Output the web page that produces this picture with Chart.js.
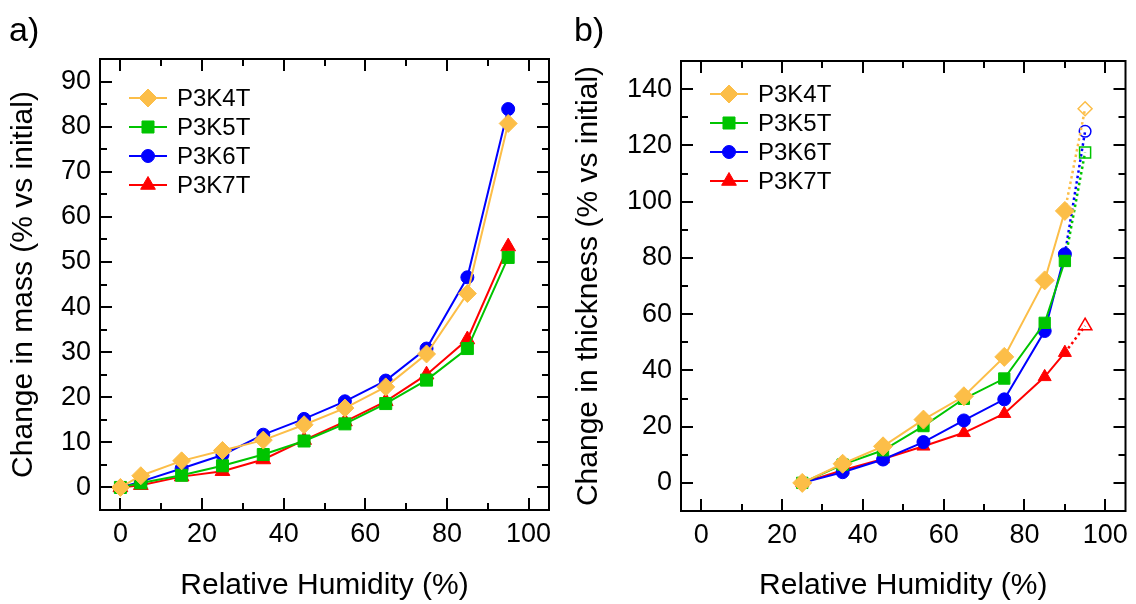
<!DOCTYPE html>
<html>
<head>
<meta charset="utf-8">
<script src="https://cdn.jsdelivr.net/npm/chart.js@4.4.1/dist/chart.umd.min.js"></script>
<style>
  html, body { margin: 0; padding: 0; background: #fff; }
  #wrap { position: relative; width: 1136px; height: 604px; }
  .panel { position: absolute; top: 0; width: 568px; height: 604px; }
</style>
</head>
<body>
<div id="wrap">
  <div class="panel" style="left:0"><canvas id="massChart" width="568" height="604"></canvas></div>
  <div class="panel" style="left:568px"><canvas id="thickChart" width="568" height="604"></canvas></div>
</div>
<script>
// ---- data ----
const seriesNames = ['P3K4T', 'P3K5T', 'P3K6T', 'P3K7T'];

// a) change in mass vs RH
const rhMass = [0, 5, 15, 25, 35, 45, 55, 65, 75, 85, 95];
const massP3K4T = [0, 2.6, 5.9, 8.2, 10.5, 13.9, 17.6, 22.3, 29.6, 43.0, 80.7];
const massP3K5T = [0, 1.0, 2.7, 4.8, 7.3, 10.3, 14.1, 18.6, 23.8, 30.8, 51.0];
const massP3K6T = [0, 1.3, 4.2, 7.2, 11.7, 15.2, 19.1, 23.7, 30.8, 46.6, 83.9];
const massP3K7T = [0, 0.5, 2.4, 3.6, 6.2, 10.5, 14.6, 19.1, 25.0, 32.8, 53.4];

// b) change in thickness vs RH (solid part), then the open point at 95 %
const rhThick = [25, 35, 45, 55, 65, 75, 85, 90];
const thickP3K4T = [0, 6.8, 13.0, 22.5, 30.8, 44.8, 72.0, 96.7];
const thickP3K5T = [0, 6.5, 11.6, 20.2, 29.9, 37.1, 56.9, 78.9];
const thickP3K6T = [0, 3.8, 8.3, 14.5, 22.2, 29.7, 54.0, 81.3];
const thickP3K7T = [0, 4.5, 8.5, 13.0, 17.8, 24.6, 37.7, 46.3];
const rhOpen = 95;
const thickOpen = [133, 117.5, 125, 55.8];

// ticks
const xTicks = [0, 20, 40, 60, 80, 100];
const xMinor = [10, 30, 50, 70, 90];
const massTicks = [0, 10, 20, 30, 40, 50, 60, 70, 80, 90];
const massMinor = [5, 15, 25, 35, 45, 55, 65, 75, 85];
const thickTicks = [0, 20, 40, 60, 80, 100, 120, 140];
const thickMinor = [10, 30, 50, 70, 90, 110, 130];

// ---- styles ----
const FONT = "'Liberation Sans', Arial, sans-serif";
const colors = ['#FCBE48', '#00C400', '#0000FF', '#FF0000'];
const styles = ['rectRot', 'rect', 'circle', 'triangle'];

Chart.defaults.color = '#000';
Chart.defaults.font.family = FONT;

function pts(xs, ys) {
  return xs.map((x, i) => ({ x: x, y: ys[i] }));
}

function drawMarker(ctx, style, r, x, y, fill, stroke, bw) {
  ctx.save();
  ctx.fillStyle = fill;
  ctx.strokeStyle = stroke;
  ctx.lineWidth = bw;
  Chart.helpers.drawPoint(ctx, { pointStyle: style, radius: r, rotation: 0, borderWidth: bw }, x, y);
  ctx.restore();
}

// frame with inward ticks on all four sides, panel letter and legend
const frame = {
  id: 'frame',
  afterDraw(chart, args, o) {
    const ctx = chart.ctx;
    const a = chart.chartArea;
    const sx = chart.scales.x, sy = chart.scales.y;
    ctx.save();
    ctx.strokeStyle = '#000';
    ctx.lineWidth = 2;
    ctx.beginPath();
    const tick = (vals, len) => {
      vals.forEach(v => {
        const px = Math.round(sx.getPixelForValue(v));
        ctx.moveTo(px, a.bottom); ctx.lineTo(px, a.bottom - len);
        ctx.moveTo(px, a.top); ctx.lineTo(px, a.top + len);
      });
    };
    const ytick = (vals, len) => {
      vals.forEach(v => {
        const py = Math.round(sy.getPixelForValue(v));
        ctx.moveTo(a.left, py); ctx.lineTo(a.left + len, py);
        ctx.moveTo(a.right, py); ctx.lineTo(a.right - len, py);
      });
    };
    tick(o.xMajor, 12); tick(o.xMinor, 7);
    ytick(o.yMajor, 12); ytick(o.yMinor, 7);
    ctx.stroke();
    ctx.strokeRect(a.left, a.top, a.right - a.left, a.bottom - a.top);

    // panel letter
    ctx.fillStyle = '#000';
    ctx.font = '34px ' + FONT;
    ctx.textBaseline = 'alphabetic';
    ctx.textAlign = 'left';
    ctx.fillText(o.label, o.labelX, 41);

    // legend
    ctx.font = '24px ' + FONT;
    ctx.textBaseline = 'middle';
    chart.data.datasets.filter(d => d.inLegend).forEach((d, i) => {
      const y = o.legendY + i * 29;
      ctx.strokeStyle = d.borderColor;
      ctx.lineWidth = 2;
      ctx.beginPath();
      ctx.moveTo(o.legendX, y); ctx.lineTo(o.legendX + 38, y);
      ctx.stroke();
      drawMarker(ctx, d.pointStyle, d.legendRadius, o.legendX + 19, y, d.borderColor, d.borderColor, 1);
      ctx.fillStyle = '#000';
      ctx.fillText(d.label, o.legendX + 48, y + 1);
    });
    ctx.restore();
  }
};

function axes(box, yMin, yMax, yTickVals, yTitle, yTitlePad) {
  return {
    x: {
      type: 'linear', min: -5, max: 105,
      grid: { display: false, drawTicks: false },
      border: { display: false },
      afterBuildTicks: s => { s.ticks = xTicks.map(v => ({ value: v })); },
      afterFit: s => { s.height = 604 - box.bottom; s.paddingLeft = 0; s.paddingRight = 0; },
      ticks: { padding: 8, font: { size: 27 }, autoSkip: false, maxRotation: 0 },
      title: { display: true, text: 'Relative Humidity (%)', font: { size: 30 }, padding: { top: 0, bottom: 0 } }
    },
    y: {
      type: 'linear', min: yMin, max: yMax,
      grid: { display: false, drawTicks: false },
      border: { display: false },
      afterBuildTicks: s => { s.ticks = yTickVals.map(v => ({ value: v })); },
      afterFit: s => { s.width = box.left; s.paddingTop = 0; s.paddingBottom = 0; },
      ticks: { padding: 9, font: { size: 27 } },
      title: { display: true, text: yTitle, font: { size: 30 }, padding: { top: yTitlePad, bottom: 0 } }
    }
  };
}

function solidSet(i, xs, ys, r) {
  return {
    label: seriesNames[i], inLegend: true, legendRadius: r.leg,
    data: pts(xs, ys),
    borderColor: colors[i], backgroundColor: colors[i],
    pointBackgroundColor: colors[i], pointBorderColor: colors[i],
    pointStyle: styles[i], pointRadius: r.pt, pointBorderWidth: 1,
    borderWidth: 2, tension: 0
  };
}

// ---- a) mass ----
const boxA = { left: 100, right: 549, top: 59, bottom: 510 };
const massR = [{ pt: 9, leg: 9 }, { pt: 8.5, leg: 8.5 }, { pt: 6.5, leg: 6.5 }, { pt: 8.5, leg: 8.5 }];
new Chart(document.getElementById('massChart'), {
  type: 'line',
  data: {
    datasets: [
      solidSet(0, rhMass, massP3K4T, massR[0]),
      solidSet(1, rhMass, massP3K5T, massR[1]),
      solidSet(2, rhMass, massP3K6T, massR[2]),
      solidSet(3, rhMass, massP3K7T, massR[3])
    ]
  },
  options: {
    responsive: false, animation: false,
    layout: { padding: { top: boxA.top, right: 568 - boxA.right, left: 0, bottom: 0 } },
    scales: axes(boxA, -5, 95, massTicks, 'Change in mass (% vs initial)', 6),
    plugins: {
      legend: { display: false }, tooltip: { enabled: false },
      frame: { xMajor: xTicks, xMinor: xMinor, yMajor: massTicks, yMinor: massMinor,
               label: 'a)', labelX: 9, legendX: 129, legendY: 98 }
    }
  },
  plugins: [frame]
});

// ---- b) thickness ----
const boxB = { left: 113, right: 562, top: 61, bottom: 511 };
const thickR = [{ pt: 9.5, leg: 9 }, { pt: 8, leg: 8.5 }, { pt: 6.5, leg: 6.5 }, { pt: 7.5, leg: 8.5 }];
const openR = [7, 7.8, 5.8, 7.8];
const thickSolid = [thickP3K4T, thickP3K5T, thickP3K6T, thickP3K7T];
const thickSets = thickSolid.map((ys, i) => solidSet(i, rhThick, ys, thickR[i]));
const dottedSets = thickSolid.map((ys, i) => ({
  label: seriesNames[i] + ' (95 %)', inLegend: false,
  data: [{ x: rhThick[rhThick.length - 1], y: ys[ys.length - 1] }, { x: rhOpen, y: thickOpen[i] }],
  borderColor: colors[i], borderDash: [2.5, 3], borderWidth: 2.5,
  pointStyle: styles[i], pointRadius: [0, openR[i]], pointBorderWidth: 1.5,
  pointBorderColor: colors[i], pointBackgroundColor: 'rgba(255,255,255,0)', tension: 0
}));
new Chart(document.getElementById('thickChart'), {
  type: 'line',
  data: { datasets: thickSets.concat(dottedSets) },
  options: {
    responsive: false, animation: false,
    layout: { padding: { top: boxB.top, right: 568 - boxB.right, left: 0, bottom: 0 } },
    scales: axes(boxB, -10, 150, thickTicks, 'Change in thickness (% vs initial)', 3),
    plugins: {
      legend: { display: false }, tooltip: { enabled: false },
      frame: { xMajor: xTicks, xMinor: xMinor, yMajor: thickTicks, yMinor: thickMinor,
               label: 'b)', labelX: 6, legendX: 142, legendY: 94 }
    }
  },
  plugins: [frame]
});
</script>
</body>
</html>
